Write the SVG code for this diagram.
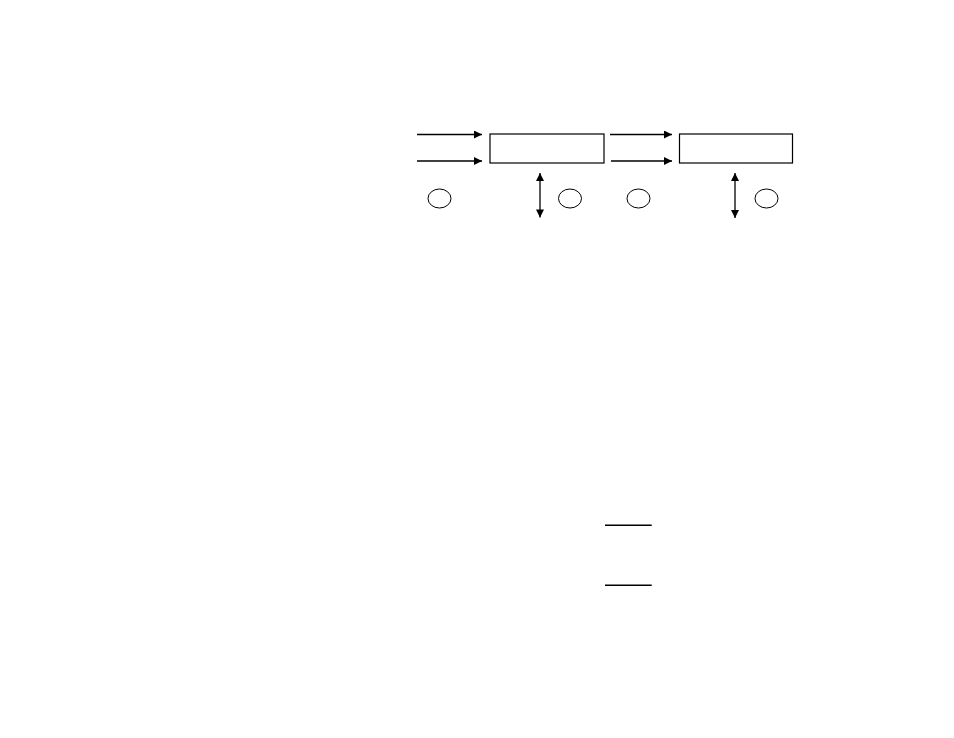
<svg xmlns="http://www.w3.org/2000/svg" width="954" height="738" viewBox="0 0 954 738">
<style>
.box{fill:#fff;stroke:#000;stroke-width:1.2}
.ln{stroke:#000;stroke-width:1.3;fill:none}
.el{fill:#fff;stroke:#000;stroke-width:1}
</style>
<defs>
<marker id="ah" viewBox="0 0 10 10" refX="10" refY="5" markerWidth="10" markerHeight="8" markerUnits="userSpaceOnUse" orient="auto-start-reverse">
<path d="M0,0 L10,5 L0,10 z" fill="#000"/>
</marker>
</defs>
<rect width="954" height="738" fill="#fff"/>
<g id="box1"><rect class="box" x="490" y="134" width="114" height="29"/></g>
<g id="box2"><rect class="box" x="679.5" y="134" width="113" height="29"/></g>
<g id="c1"><ellipse class="el" cx="439.5" cy="198.5" rx="11.5" ry="9.5"/></g>
<g id="c2"><ellipse class="el" cx="570" cy="198.5" rx="11.5" ry="9.5"/></g>
<g id="c3"><ellipse class="el" cx="638.5" cy="198.5" rx="11.5" ry="9.5"/></g>
<g id="c4"><ellipse class="el" cx="766.5" cy="198.5" rx="11.5" ry="9.5"/></g>
<g id="connectors">
<line class="ln" x1="417" y1="134.5" x2="482" y2="134.5" marker-end="url(#ah)"/>
<line class="ln" x1="417" y1="161" x2="482" y2="161" marker-end="url(#ah)"/>
<line class="ln" x1="610" y1="134.5" x2="672" y2="134.5" marker-end="url(#ah)"/>
<line class="ln" x1="611" y1="161" x2="672" y2="161" marker-end="url(#ah)"/>
<line class="ln" x1="540" y1="173" x2="540" y2="217.5" marker-start="url(#ah)" marker-end="url(#ah)"/>
<line class="ln" x1="735" y1="173" x2="735" y2="218" marker-start="url(#ah)" marker-end="url(#ah)"/>
<line x1="605" y1="525.3" x2="651.7" y2="525.3" stroke="#000" stroke-width="1.6"/>
<line x1="605" y1="585.3" x2="651.7" y2="585.3" stroke="#000" stroke-width="1.6"/>
</g>
</svg>
